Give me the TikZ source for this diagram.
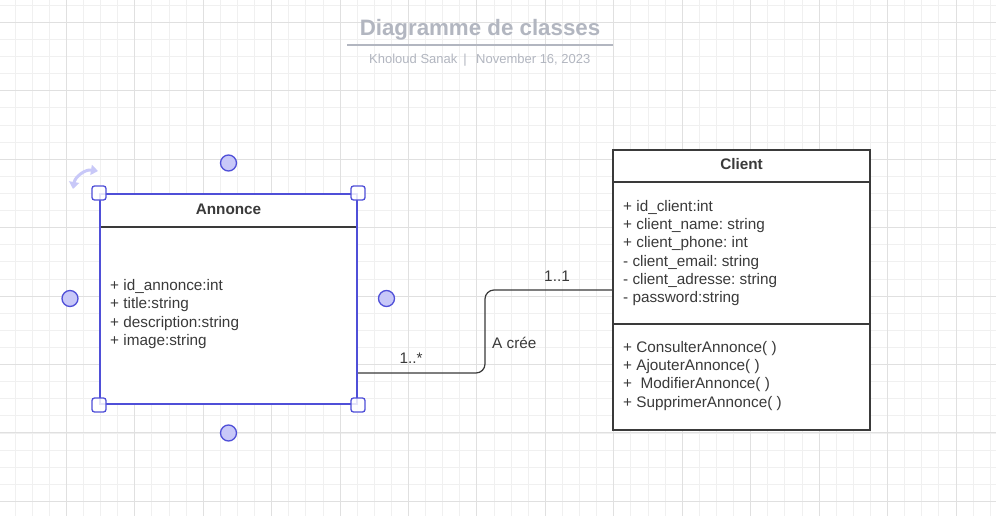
\documentclass[tikz,border=0pt]{standalone}
\usepackage{fontspec}
\setmainfont{Liberation Sans}
\usetikzlibrary{arrows.meta,calc}
\definecolor{gridminor}{HTML}{F0F0F0}
\definecolor{gridmajor}{HTML}{E0E0E0}
\definecolor{ink}{HTML}{3A3A3A}
\definecolor{selblue}{HTML}{4F4FD8}
\definecolor{selfill}{HTML}{C8C8F8}
\definecolor{titlegray}{HTML}{B2B6C0}
\tikzset{
  txt/.style={font=\fontsize{15.3}{18}\selectfont, text=ink, inner sep=0pt, anchor=base west},
  hdr/.style={font=\fontsize{15.3}{18}\selectfont\bfseries, text=ink, inner sep=0pt, anchor=base},
  lbl/.style={font=\fontsize{15.3}{18}\selectfont, text=ink, inner sep=0pt},
  umlbox/.style={draw=ink, line width=1.7pt, fill=white, inner sep=0pt},
  selbox/.style={draw=selblue, line width=2pt, fill=white, inner sep=0pt},
  conn/.style={draw=ink, line width=1.2pt, rounded corners=9pt},
  handle/.style={draw=selblue, line width=1.3pt, fill=white, fill opacity=0.85, rounded corners=2.5pt, minimum size=14pt, inner sep=0pt},
  dot/.style={circle, draw=selblue, line width=1.3pt, fill=selfill, minimum size=16pt, inner sep=0pt},
}
\begin{document}
\frenchspacing
\begin{tikzpicture}[x=1pt,y=-1pt]
\fill[white] (0,0) rectangle (996,516);
\useasboundingbox (0,0) rectangle (996,516);
% grid
\foreach \i in {0,...,58} {
  \pgfmathsetmacro\xx{14.97+17.11*\i}
  \draw[gridminor, line width=0.9pt] (\xx,0) -- (\xx,516);
}
\foreach \j in {0,...,30} {
  \pgfmathsetmacro\yy{5.2+17.11*\j}
  \draw[gridminor, line width=0.9pt] (0,\yy) -- (996,\yy);
}
\foreach \i in {0,...,14} {
  \pgfmathsetmacro\xx{66.3+68.44*\i}
  \draw[gridmajor, line width=0.9pt] (\xx,0) -- (\xx,516);
}
\foreach \j in {0,...,7} {
  \pgfmathsetmacro\yy{22.3+68.44*\j}
  \draw[gridmajor, line width=0.9pt] (0,\yy) -- (996,\yy);
}
% title
\node[font=\fontsize{22.3}{26}\selectfont\bfseries, text=titlegray, inner sep=0pt, anchor=base] (title) at (480,36) {Diagramme de classes};
\draw[titlegray, line width=1.8pt] (347,45) -- (613,45);
\node[font=\fontsize{13}{15}\selectfont, text=titlegray, inner sep=0pt, anchor=base west] (author) at (369,64) {Kholoud Sanak};
\node[font=\fontsize{13}{15}\selectfont, text=titlegray, inner sep=0pt, anchor=base] (sep) at (465,64) {|};
\node[font=\fontsize{13}{15}\selectfont, text=titlegray, inner sep=0pt, anchor=base west] (date) at (476,64) {November 16, 2023};

% Annonce class (selected)
\node[selbox, minimum width=257pt, minimum height=210pt] (annonce) at (228.5,299) {};
\draw[ink, line width=1.6pt] (101,227) -- (356,227);
\node[hdr] (annonceT) at (228.5,214.5) {Annonce};
\node[txt] (a1) at (110,290.5) {+ id\_annonce:int};
\node[txt] (a2) at (110,308.9) {+ title:string};
\node[txt] (a3) at (110,327.3) {+ description:string};
\node[txt] (a4) at (110,345.6) {+ image:string};

% Client class
\node[umlbox, minimum width=257pt, minimum height=280pt] (client) at (741.5,290) {};
\draw[ink, line width=1.6pt] (613,182) -- (870,182);
\draw[ink, line width=1.6pt] (613,324) -- (870,324);
\node[hdr] (clientT) at (741.5,169.6) {Client};
\node[txt] (c1) at (623,211) {+ id\_client:int};
\node[txt] (c2) at (623,229.3) {+ client\_name: string};
\node[txt] (c3) at (623,247.6) {+ client\_phone: int};
\node[txt] (c4) at (623,266) {- client\_email: string};
\node[txt] (c5) at (623,284.3) {- client\_adresse: string};
\node[txt] (c6) at (623,302.6) {- password:string};
\node[txt] (m1) at (623,352) {+ ConsulterAnnonce( )};
\node[txt] (m2) at (623,370.3) {+ AjouterAnnonce( )};
\node[txt] (m3) at (623,388.6) {+\ \ ModifierAnnonce( )};
\node[txt] (m4) at (623,407) {+ SupprimerAnnonce( )};

% association
\draw[conn] (annonce.east |- 0,373) -- (485,373) -- (485,290) -- (client.west);
\node[lbl, anchor=base] (multA) at (411,363) {1..*};
\node[lbl, anchor=base] (multC) at (557,281) {1..1};
\node[lbl, anchor=base west] (assoc) at (492,348) {A crée};

% selection handles
\node[handle] (h1) at (annonce.north west) {};
\node[handle] (h2) at (annonce.north east) {};
\node[handle] (h3) at (annonce.south west) {};
\node[handle] (h4) at (annonce.south east) {};
\node[dot] (d1) at (228.5,163) {};
\node[dot] (d2) at (70,298.5) {};
\node[dot] (d3) at (386.5,298.5) {};
\node[dot] (d4) at (228.5,433) {};
% rotate icon
\draw[selfill, line width=3pt, {Triangle[length=7pt,width=10pt]}-{Triangle[length=7pt,width=10pt]}] (73,189) .. controls (75,177) and (85,169) .. (98,171);
\end{tikzpicture}
\end{document}
